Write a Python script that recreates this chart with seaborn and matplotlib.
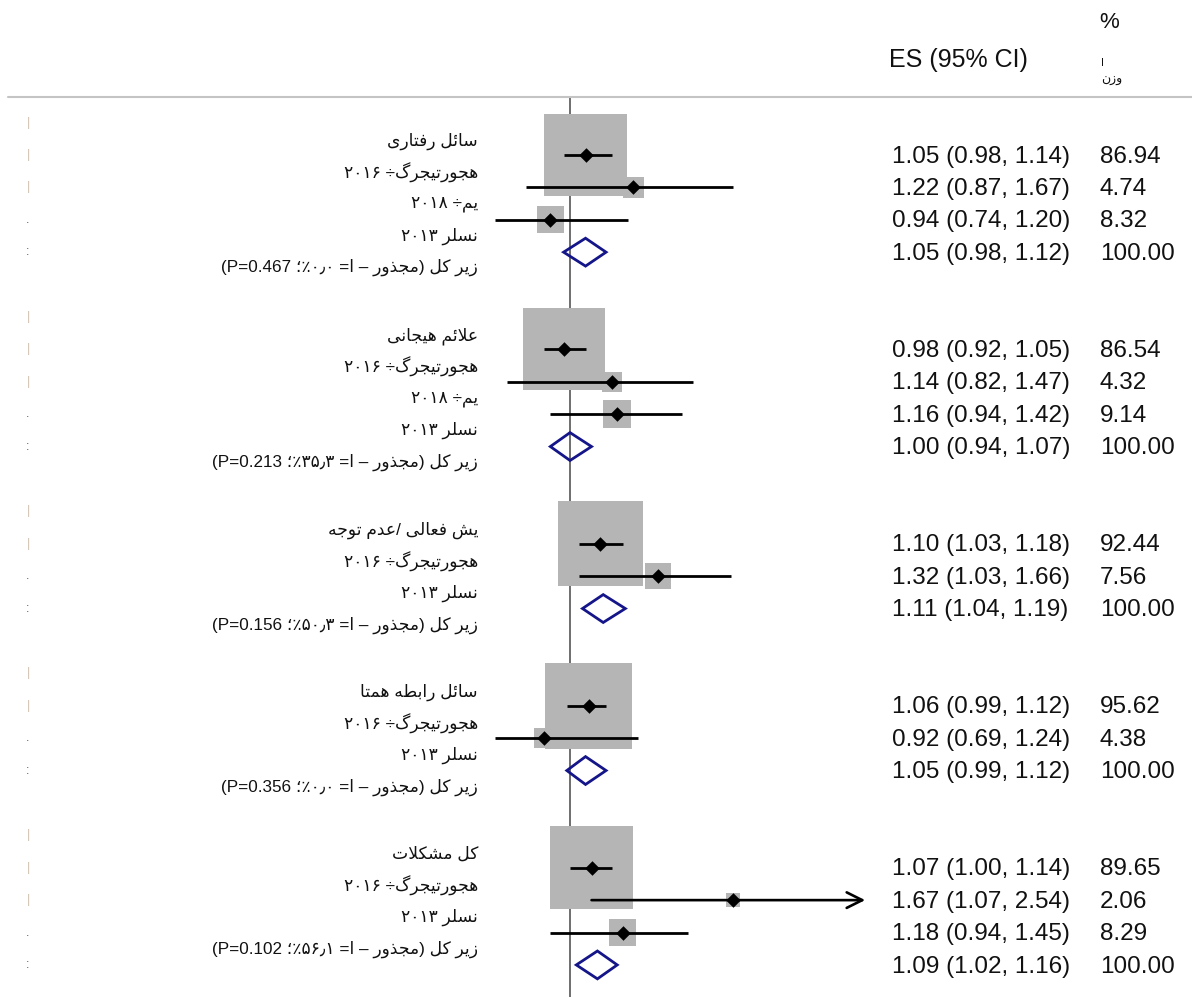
import re
import matplotlib
matplotlib.use("Agg")
import matplotlib.pyplot as plt
import matplotlib.transforms as mtransforms
from matplotlib.patches import Polygon
import numpy as np
import pandas as pd
import seaborn as sns

# ---------------- dados ----------------
titulos = ["سائل رفتاری", "علائم هیجانی", "یش فعالی /عدم توجه", "سائل رابطه همتا", "کل مشکلات"]
estudos = [
    ["هجورتیجرگ÷ ۲۰۱۶", "یم÷ ۲۰۱۸", "نسلر ۲۰۱۳"],
    ["هجورتیجرگ÷ ۲۰۱۶", "یم÷ ۲۰۱۸", "نسلر ۲۰۱۳"],
    ["هجورتیجرگ÷ ۲۰۱۶", "نسلر ۲۰۱۳"],
    ["هجورتیجرگ÷ ۲۰۱۶", "نسلر ۲۰۱۳"],
    ["هجورتیجرگ÷ ۲۰۱۶", "نسلر ۲۰۱۳"],
]
subtotais = [
    "زیر کل (مجذور – ا= ۰٫۰٪؛ P=0.467)",
    "زیر کل (مجذور – ا= ۳۵٫۳٪؛ P=0.213)",
    "زیر کل (مجذور – ا= ۵۰٫۳٪؛ P=0.156)",
    "زیر کل (مجذور – ا= ۰٫۰٪؛ P=0.356)",
    "زیر کل (مجذور – ا= ۵۶٫۱٪؛ P=0.102)",
]

# efeito, limite inferior, limite superior, peso (%) -- a última linha de cada grupo é o subtotal
es = [[1.05, 1.22, 0.94, 1.05], [0.98, 1.14, 1.16, 1.00], [1.10, 1.32, 1.11],
      [1.06, 0.92, 1.05], [1.07, 1.67, 1.18, 1.09]]
lo = [[0.98, 0.87, 0.74, 0.98], [0.92, 0.82, 0.94, 0.94], [1.03, 1.03, 1.04],
      [0.99, 0.69, 0.99], [1.00, 1.07, 0.94, 1.02]]
hi = [[1.14, 1.67, 1.20, 1.12], [1.05, 1.47, 1.42, 1.07], [1.18, 1.66, 1.19],
      [1.12, 1.24, 1.12], [1.14, 2.54, 1.45, 1.16]]
peso = [[86.94, 4.74, 8.32, 100.00], [86.54, 4.32, 9.14, 100.00], [92.44, 7.56, 100.00],
        [95.62, 4.38, 100.00], [89.65, 2.06, 8.29, 100.00]]

# ---------------- texto persa (formas de apresentação + ordem visual) ----------------
def _dual(b):
    return (b, b + 1, b + 2, b + 3)

FORMAS = {
    "ا": (0xFE8D, 0xFE8E), "د": (0xFEA9, 0xFEAA), "ذ": (0xFEAB, 0xFEAC),
    "ر": (0xFEAD, 0xFEAE), "ز": (0xFEAF, 0xFEB0), "و": (0xFEED, 0xFEEE),
    "ب": _dual(0xFE8F), "ت": _dual(0xFE95), "ج": _dual(0xFE9D), "س": _dual(0xFEB1),
    "ش": _dual(0xFEB5), "ط": _dual(0xFEC1), "ع": _dual(0xFEC9), "ف": _dual(0xFED1),
    "ل": _dual(0xFEDD), "م": _dual(0xFEE1), "ن": _dual(0xFEE5), "ه": _dual(0xFEE9),
    "ئ": _dual(0xFE89), "ک": _dual(0xFB8E), "گ": _dual(0xFB92), "ی": _dual(0xFBFC),
}


def moldar(s):
    out = []
    i = 0
    while i < len(s):
        c = s[i]
        if c not in FORMAS:
            out.append(c)
            i += 1
            continue
        ant = s[i - 1] if i > 0 else None
        liga_ant = ant in FORMAS and len(FORMAS[ant]) == 4
        if c == "ل" and i + 1 < len(s) and s[i + 1] == "ا":
            out.append(chr(0xFEFC if liga_ant else 0xFEFB))
            i += 2
            continue
        prox = s[i + 1] if i + 1 < len(s) else None
        liga_prox = len(FORMAS[c]) == 4 and prox in FORMAS
        f = FORMAS[c]
        if liga_ant and liga_prox:
            g = f[3]
        elif liga_ant:
            g = f[1]
        elif liga_prox:
            g = f[2]
        else:
            g = f[0]
        out.append(chr(g))
        i += 1
    return "".join(out)


def visual(s):
    tokens = re.findall(r"[A-Za-z0-9\u06F0-\u06F9][A-Za-z0-9\u06F0-\u06F9.=\u066B]*|.", moldar(s))
    espelho = {"(": ")", ")": "("}
    return "".join(espelho.get(t, t) for t in reversed(tokens))


# ---------------- figura ----------------
sns.set_theme(style="white")
plt.rcParams["font.family"] = ["Liberation Sans", "DejaVu Sans"]

W, H = 1192, 997
fig = plt.figure(figsize=(W / 100, H / 100), dpi=100)
fig.patch.set_facecolor("white")

# eixo do gráfico: pixels 440..880 na horizontal, 96..997 na vertical
ax = fig.add_axes([440 / W, 0, 440 / W, (H - 96) / H])
ax.set_xscale("log")
ax.set_xlim(0.6644, 2.6507)
ax.set_ylim(25.99, -1.82)
ax.axis("off")

clip_lo, clip_hi = 0.79, 2.53
trans = mtransforms.blended_transform_factory(fig.transFigure, ax.transData)

ax.axvline(1, color="#6e6e6e", lw=1.4, zorder=1)
fig.add_artist(plt.Line2D([8 / W, 1], [1 - 97 / H] * 2, transform=fig.transFigure,
                          color="#c4c4c4", lw=1.5))

linhas = []
inicio = 0
for g in range(len(es)):
    n = len(es[g])
    for k in range(n):
        linhas.append(dict(grupo=g, linha=inicio + k, es=es[g][k], lo=lo[g][k], hi=hi[g][k],
                           peso=peso[g][k], subtotal=(k == n - 1)))
    # rótulos (deslocados como no original)
    rotulos = [titulos[g]] + estudos[g] + [subtotais[g]]
    for j, r in enumerate(rotulos):
        ax.text(478 / W, inicio - 0.42 + j * 0.975, visual(r), transform=trans,
                ha="right", va="center", fontsize=12.3, color="#111111")
    # marcas pequenas à esquerda
    for k in range(-1, n):
        marca = ":" if k == n - 1 else ("." if k == n - 2 else "|")
        cor = "#555555" if marca != "|" else "#d2c2b0"
        ax.text(28 / W, inicio + k, marca, transform=trans, ha="center", va="center",
                fontsize=9, color=cor)
    inicio += n + 2

df = pd.DataFrame(linhas)
est = df[~df.subtotal]
sub = df[df.subtotal]

# quadrados proporcionais ao peso
lado_px = 2 + 8.6 * np.sqrt(est.peso)
ax.scatter(est.es, est.linha, s=(lado_px * 0.72) ** 2, marker="s", color="#b5b5b5",
           linewidths=0, zorder=2)

# intervalos de confiança
for _, r in est.iterrows():
    x0 = max(r.lo, clip_lo)
    if r.hi > clip_hi:
        ax.annotate("", xy=(clip_hi, r.linha), xytext=(x0, r.linha),
                    arrowprops=dict(arrowstyle="->", lw=1.9, color="black",
                                    shrinkA=0, shrinkB=0, mutation_scale=28), zorder=3)
    else:
        ax.hlines(r.linha, x0, r.hi, color="black", lw=2.0, zorder=3)

sns.scatterplot(data=est, x="es", y="linha", marker="D", s=55, color="black",
                linewidth=0, ax=ax, zorder=4, legend=False)
ax.axis("off")

# losangos dos subtotais
meia = 0.43
for _, r in sub.iterrows():
    ax.add_patch(Polygon([(r.lo, r.linha), (r.es, r.linha - meia), (r.hi, r.linha),
                          (r.es, r.linha + meia)], closed=True, fill=False,
                         edgecolor="#15158a", lw=2.0, zorder=4))

# colunas de valores
for _, r in df.iterrows():
    ax.text(892 / W, r.linha + 0.05, f"{r.es:.2f} ({r.lo:.2f}, {r.hi:.2f})", transform=trans,
            ha="left", va="center", fontsize=17.5, color="#111111")
    ax.text(1100 / W, r.linha + 0.05, f"{r.peso:.2f}", transform=trans,
            ha="left", va="center", fontsize=17.5, color="#111111")

# cabeçalho
fig.text(889 / W, 1 - 60 / H, "ES (95% CI)", ha="left", va="center", fontsize=18, color="#111111")
fig.text(1109 / W, 1 - 23 / H, "%", ha="center", va="center", fontsize=16, color="#111111")
fig.text(1103 / W, 1 - 63 / H, visual("ا"), ha="center", va="center", fontsize=8, color="#111111")
fig.text(1112 / W, 1 - 80 / H, visual("وزن"), ha="center", va="center", fontsize=9, color="#111111")

fig.savefig("out.png", dpi=100, facecolor="white")
